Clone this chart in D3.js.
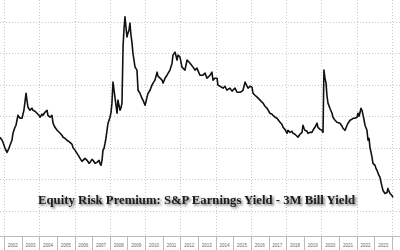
<!DOCTYPE html>
<html>
<head>
<meta charset="utf-8">
<script src="https://cdn.jsdelivr.net/npm/d3@7"></script>
<style>
  html, body { margin: 0; padding: 0; background: #fff; }
  svg { display: block; }
</style>
</head>
<body>
<div id="chart"></div>
<script>
// Equity risk premium (% pts). Dates as decimal years.
var dates = [
  2001.77, 2001.89, 2001.94, 2002.06, 2002.17, 2002.28, 2002.34, 2002.45, 2002.51, 2002.62,
  2002.68, 2002.79, 2002.91, 2003.02, 2003.13, 2003.25, 2003.30, 2003.36, 2003.47, 2003.59,
  2003.64, 2003.76, 2003.87, 2003.98, 2004.04, 2004.15, 2004.21, 2004.32, 2004.44, 2004.49,
  2004.61, 2004.72, 2004.78, 2004.89, 2005.01, 2005.18, 2005.29, 2005.35, 2005.46, 2005.57,
  2005.74, 2005.86, 2005.91, 2006.03, 2006.14, 2006.25, 2006.31, 2006.42, 2006.48, 2006.59,
  2006.71, 2006.82, 2006.88, 2006.99, 2007.05, 2007.16, 2007.27, 2007.39, 2007.44, 2007.50,
  2007.56, 2007.61, 2007.67, 2007.73, 2007.78, 2007.84, 2007.90, 2008.01, 2008.07, 2008.12,
  2008.18, 2008.24, 2008.29, 2008.41, 2008.46, 2008.58, 2008.63, 2008.69, 2008.75, 2008.80,
  2008.86, 2008.92, 2008.97, 2009.03, 2009.09, 2009.14, 2009.20, 2009.26, 2009.31, 2009.43,
  2009.54, 2009.60, 2009.71, 2009.82, 2009.88, 2010.00, 2010.11, 2010.17, 2010.28, 2010.39,
  2010.45, 2010.56, 2010.68, 2010.73, 2010.85, 2010.96, 2011.02, 2011.13, 2011.24, 2011.41,
  2011.53, 2011.58, 2011.70, 2011.81, 2011.87, 2011.98, 2012.09, 2012.26, 2012.38, 2012.55,
  2012.72, 2012.83, 2012.94, 2013.11, 2013.28, 2013.40, 2013.51, 2013.68, 2013.79, 2013.85,
  2013.96, 2014.08, 2014.13, 2014.25, 2014.42, 2014.53, 2014.64, 2014.81, 2014.93, 2014.98,
  2015.10, 2015.21, 2015.38, 2015.50, 2015.55, 2015.67, 2015.72, 2015.84, 2015.95, 2016.06,
  2016.12, 2016.23, 2016.35, 2016.52, 2016.63, 2016.69, 2016.80, 2016.91, 2017.08, 2017.20,
  2017.25, 2017.37, 2017.48, 2017.65, 2017.76, 2017.82, 2017.93, 2018.05, 2018.10, 2018.22,
  2018.33, 2018.39, 2018.50, 2018.67, 2018.78, 2018.90, 2018.95, 2019.01, 2019.07, 2019.18,
  2019.24, 2019.35, 2019.46, 2019.52, 2019.63, 2019.75, 2019.80, 2019.92, 2020.03, 2020.09,
  2020.14, 2020.20, 2020.26, 2020.31, 2020.37, 2020.48, 2020.60, 2020.65, 2020.77, 2020.88,
  2021.05, 2021.17, 2021.22, 2021.34, 2021.45, 2021.51, 2021.62, 2021.73, 2021.79, 2021.90,
  2022.02, 2022.07, 2022.13, 2022.19, 2022.24, 2022.30, 2022.36, 2022.41, 2022.47, 2022.58,
  2022.64, 2022.70, 2022.75, 2022.87, 2022.92, 2023.04, 2023.09, 2023.15, 2023.26, 2023.32,
  2023.43, 2023.49, 2023.60, 2023.72, 2023.77, 2023.83, 2023.89, 2024.00, 2024.06
];
var premium = [
  2.67, 2.48, 2.35, 1.97, 1.71, 1.97, 2.16, 2.48, 2.92, 3.30,
  3.43, 4.06, 3.87, 3.87, 4.38, 5.46, 5.02, 4.57, 4.38, 4.51,
  4.38, 4.32, 4.19, 4.06, 3.94, 4.13, 4.06, 4.25, 4.38, 4.06,
  3.94, 4.06, 3.56, 3.30, 3.11, 2.92, 2.79, 2.67, 2.60, 2.48,
  2.35, 2.22, 2.03, 1.84, 1.65, 1.46, 1.33, 1.14, 1.21, 1.33,
  1.21, 1.02, 1.08, 1.27, 1.21, 1.02, 1.08, 1.21, 1.02, 0.89,
  1.21, 1.84, 1.97, 2.29, 2.60, 3.11, 3.56, 3.94, 4.25, 4.83,
  6.16, 5.65, 5.21, 4.19, 5.02, 4.38, 4.51, 4.83, 8.38, 9.46,
  10.29, 9.59, 9.02, 9.27, 9.46, 9.90, 9.14, 8.63, 8.00, 7.11,
  6.92, 5.65, 5.46, 5.14, 5.02, 4.70, 5.21, 5.46, 5.65, 5.97,
  6.10, 6.29, 6.79, 6.54, 6.41, 6.29, 6.10, 6.41, 6.60, 6.92,
  7.36, 7.87, 8.06, 7.56, 7.87, 7.75, 7.11, 6.92, 7.56, 7.36,
  7.11, 6.92, 7.05, 6.60, 6.60, 6.73, 6.41, 6.60, 6.79, 6.29,
  6.41, 6.41, 5.97, 5.90, 5.78, 5.90, 5.65, 5.78, 5.59, 5.65,
  5.78, 5.52, 5.52, 5.59, 5.65, 6.16, 6.03, 5.78, 5.90, 5.84,
  5.46, 5.33, 5.21, 5.02, 4.89, 4.83, 4.63, 4.51, 4.19, 4.13,
  4.06, 3.94, 3.87, 3.62, 3.49, 3.30, 3.17, 2.92, 3.11, 2.98,
  3.05, 2.92, 2.86, 2.67, 2.86, 2.98, 3.43, 3.24, 3.11, 3.05,
  2.92, 2.98, 2.98, 3.11, 3.30, 3.56, 3.30, 3.17, 3.11, 2.98,
  6.92, 6.41, 6.10, 5.33, 4.83, 4.51, 4.19, 3.94, 3.75, 3.62,
  3.56, 3.37, 3.24, 3.11, 3.43, 3.56, 3.75, 3.81, 3.87, 3.87,
  3.94, 4.19, 4.00, 4.25, 4.51, 4.38, 4.06, 3.81, 3.43, 3.11,
  2.48, 2.60, 2.03, 1.40, 1.02, 0.89, 0.70, 0.57, 0.25, 0.13,
  -0.44, -0.70, -0.89, -0.83, -0.57, -0.76, -0.89, -1.02, -1.14
];
var years = d3.range(2002, 2024);          // axis labels 2002 .. 2023
var gridYears = d3.range(2002, 2025, 2);    // dotted vertical grid
var gridValues = d3.range(-2, 11, 2);       // dotted horizontal grid
var title = "Equity Risk Premium: S&P Earnings Yield - 3M Bill Yield";

var iWidth = 400, iHeight = 250;
var axisY = 236;

var svg = d3.select("#chart").append("svg")
  .attr("width", iWidth)
  .attr("height", iHeight);

var defs = svg.append("defs");
var shadow = defs.append("filter").attr("id", "shadow")
  .attr("x", "-10%").attr("y", "-50%").attr("width", "120%").attr("height", "200%");
shadow.append("feDropShadow")
  .attr("dx", 1.6).attr("dy", 1.6).attr("stdDeviation", 0.9)
  .attr("flood-color", "#333").attr("flood-opacity", 0.75);

var x = d3.scaleLinear().domain([2002, 2024]).range([4, 392]);
var y = d3.scaleLinear().domain([-2, 10]).range([211, 21.5]);

svg.append("rect").attr("width", iWidth).attr("height", iHeight).attr("fill", "#fff");

// grid
svg.append("g").selectAll("line").data(gridValues).join("line")
  .attr("x1", 0).attr("x2", iWidth)
  .attr("y1", d => Math.round(y(d)) + 0.5).attr("y2", d => Math.round(y(d)) + 0.5)
  .attr("stroke", "#c8c8c8").attr("stroke-width", 1).attr("stroke-dasharray", "1,2");

svg.append("g").selectAll("line").data(gridYears).join("line")
  .attr("x1", d => Math.round(x(d)) + 0.5).attr("x2", d => Math.round(x(d)) + 0.5)
  .attr("y1", 0).attr("y2", axisY)
  .attr("stroke", "#c8c8c8").attr("stroke-width", 1).attr("stroke-dasharray", "1,2");

// bottom axis strip
var gAxis = svg.append("g");
gAxis.append("line")
  .attr("x1", 0).attr("x2", iWidth).attr("y1", axisY + 0.5).attr("y2", axisY + 0.5)
  .attr("stroke", "#bbb");
gAxis.selectAll("line.tick").data(years.concat([2024])).join("line")
  .attr("class", "tick")
  .attr("x1", d => Math.round(x(d)) + 0.5).attr("x2", d => Math.round(x(d)) + 0.5)
  .attr("y1", axisY).attr("y2", iHeight)
  .attr("stroke", "#bbb");
gAxis.selectAll("text").data(years).join("text")
  .attr("x", d => x(d + 0.5))
  .attr("y", 247)
  .attr("text-anchor", "middle")
  .attr("font-family", "Liberation Sans, Arial, sans-serif")
  .attr("font-size", 4.5)
  .attr("fill", "#666")
  .text(d => d);

// line
var line = d3.line()
  .x((d, i) => x(dates[i]))
  .y(d => y(d));

svg.append("path")
  .datum(premium)
  .attr("d", line)
  .attr("fill", "none")
  .attr("stroke", "#111")
  .attr("stroke-width", 1.6)
  .attr("stroke-linejoin", "round");

// title
svg.append("text")
  .attr("x", 38)
  .attr("y", 204)
  .attr("textLength", 317)
  .attr("lengthAdjust", "spacingAndGlyphs")
  .attr("font-family", "Liberation Serif, Times New Roman, serif")
  .attr("font-weight", "bold")
  .attr("font-size", 12.5)
  .attr("fill", "#1a1a1a")
  .attr("filter", "url(#shadow)")
  .text(title);
</script>
</body>
</html>
